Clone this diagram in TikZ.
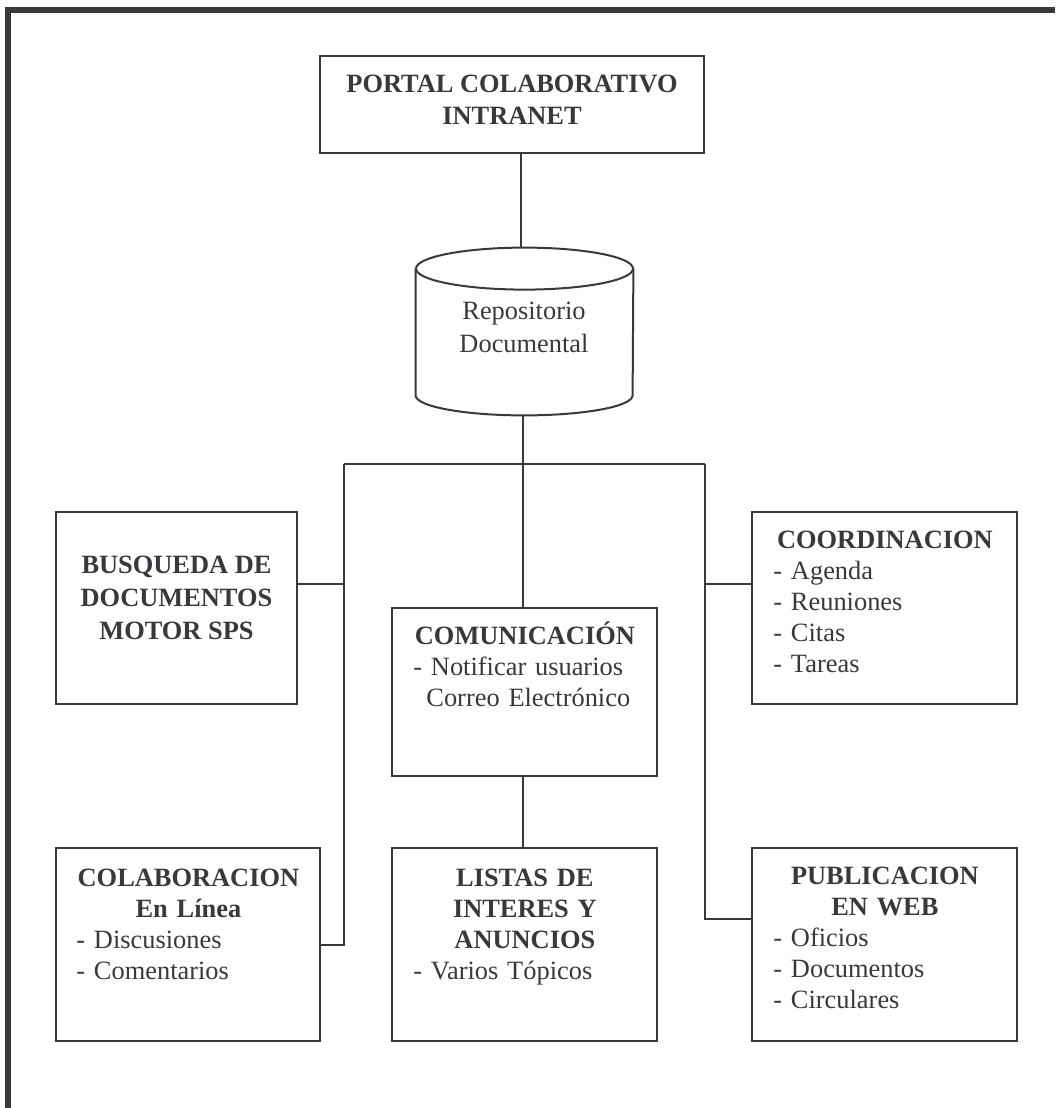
\documentclass[tikz,border=0pt]{standalone}
\usepackage{fontspec}
\setmainfont{Liberation Serif}
\usetikzlibrary{calc}
\definecolor{ink}{HTML}{38383D}
\begin{document}
\begin{tikzpicture}[x=0.5pt,y=-0.5pt,
  box/.style={draw=ink, line width=1pt, inner sep=0, rectangle},
  wire/.style={draw=ink, line width=1pt},
  frame/.style={draw=ink, line width=3pt, line join=miter},
  txt/.style={inner sep=0, text=ink, font=\fontsize{13.2}{15.5}\selectfont},
  txtb/.style={inner sep=0, text=ink, font=\fontsize{13.2}{16}\selectfont\bfseries},
  ]
\useasboundingbox (0,0) rectangle (1055,1108);

% page frame (top and left edges)
\draw[frame] (1055,10) -- (8.3,10) -- (8.3,1108);

% boxes
\node[box, minimum width=192pt,   minimum height=48.5pt] (top)    at (512,104.5) {};
\node[minimum width=108.5pt, minimum height=83.5pt, inner sep=0] (repo) at (524.5,331.5) {};
\node[box, minimum width=120.5pt, minimum height=96pt]   (busq)   at (176.5,608) {};
\node[box, minimum width=132.5pt, minimum height=96pt]   (coord)  at (884.5,608) {};
\node[box, minimum width=132.5pt, minimum height=84pt]   (comu)   at (524.5,692) {};
\node[box, minimum width=132pt,   minimum height=96.5pt] (colab)  at (188,944.5) {};
\node[box, minimum width=132.5pt, minimum height=96.5pt] (listas) at (524.5,944.5) {};
\node[box, minimum width=132.5pt, minimum height=96.5pt] (publi)  at (884.5,944.5) {};

% document repository drawn as a cylinder
\draw[wire] ($(repo.north)+(0,21)$) ellipse [x radius=54.25pt, y radius=10.5pt];
\draw[wire] ($(repo.north west)+(0,21)$) -- ($(repo.south west)+(0,-20)$)
  arc[start angle=180, end angle=360, x radius=54.25pt, y radius=10pt]
  -- ($(repo.north east)+(0,21)$);

% connectors
\coordinate (hub) at (523,464);
\coordinate (bl) at (344,464);
\coordinate (br) at (705,464);
\draw[wire] ([xshift=4.5pt]top.south) -- ([xshift=4.5pt]top.south |- repo.north);
\draw[wire] (repo.south -| hub) -- (hub);
\draw[wire] (bl) -- (br);
\draw[wire] (hub) -- (comu.north -| hub);
\draw[wire] (comu.south -| hub) -- (listas.north -| hub);
\draw[wire] ([yshift=12pt]busq.east) -- ([yshift=12pt]busq.east -| bl);
\draw[wire] (bl) |- (colab.east);
\draw[wire] ([yshift=12pt]coord.west) -- ([yshift=12pt]coord.west -| br);
\draw[wire] (br) |- ([yshift=12.75pt]publi.west);

% texts
\node[txtb, align=center, anchor=north] (toptxt) at (512,75) {PORTAL COLABORATIVO\\INTRANET};
\node[txt, font=\fontsize{13.2}{16.5}\selectfont, align=center, anchor=north] (repotxt) at (524,302) {Repositorio\\Documental};
\node[txtb, font=\fontsize{13.2}{16.5}\selectfont\bfseries, align=center, anchor=north] (busqtxt) at (176.5,556) {BUSQUEDA DE\\DOCUMENTOS\\MOTOR SPS};
\node[txt, anchor=north west, text width=111.5pt, align=left] (coordtxt) at (773,531)
  {{\centering\bfseries COORDINACION\par}- Agenda\\- Reuniones\\- Citas\\- Tareas};
\node[txt, anchor=north west, text width=111.5pt, align=left] (comutxt) at (413,621)
  {{\centering\bfseries COMUNICACIÓN\par}- Notificar usuarios\\\hspace*{6.5pt}Correo Electrónico};
\node[txt, anchor=north west, text width=112pt, align=left] (colabtxt) at (76,869)
  {{\centering\bfseries COLABORACION\\En Línea\par}- Discusiones\\- Comentarios};
\node[txt, anchor=north west, text width=111.5pt, align=left] (listastxt) at (413,869)
  {{\centering\bfseries LISTAS DE\\INTERES Y\\ANUNCIOS\par}- Varios Tópicos};
\node[txt, anchor=north west, text width=111.5pt, align=left] (publitxt) at (773,867)
  {{\centering\bfseries PUBLICACION\\EN WEB\par}- Oficios\\- Documentos\\- Circulares};
\end{tikzpicture}
\end{document}
